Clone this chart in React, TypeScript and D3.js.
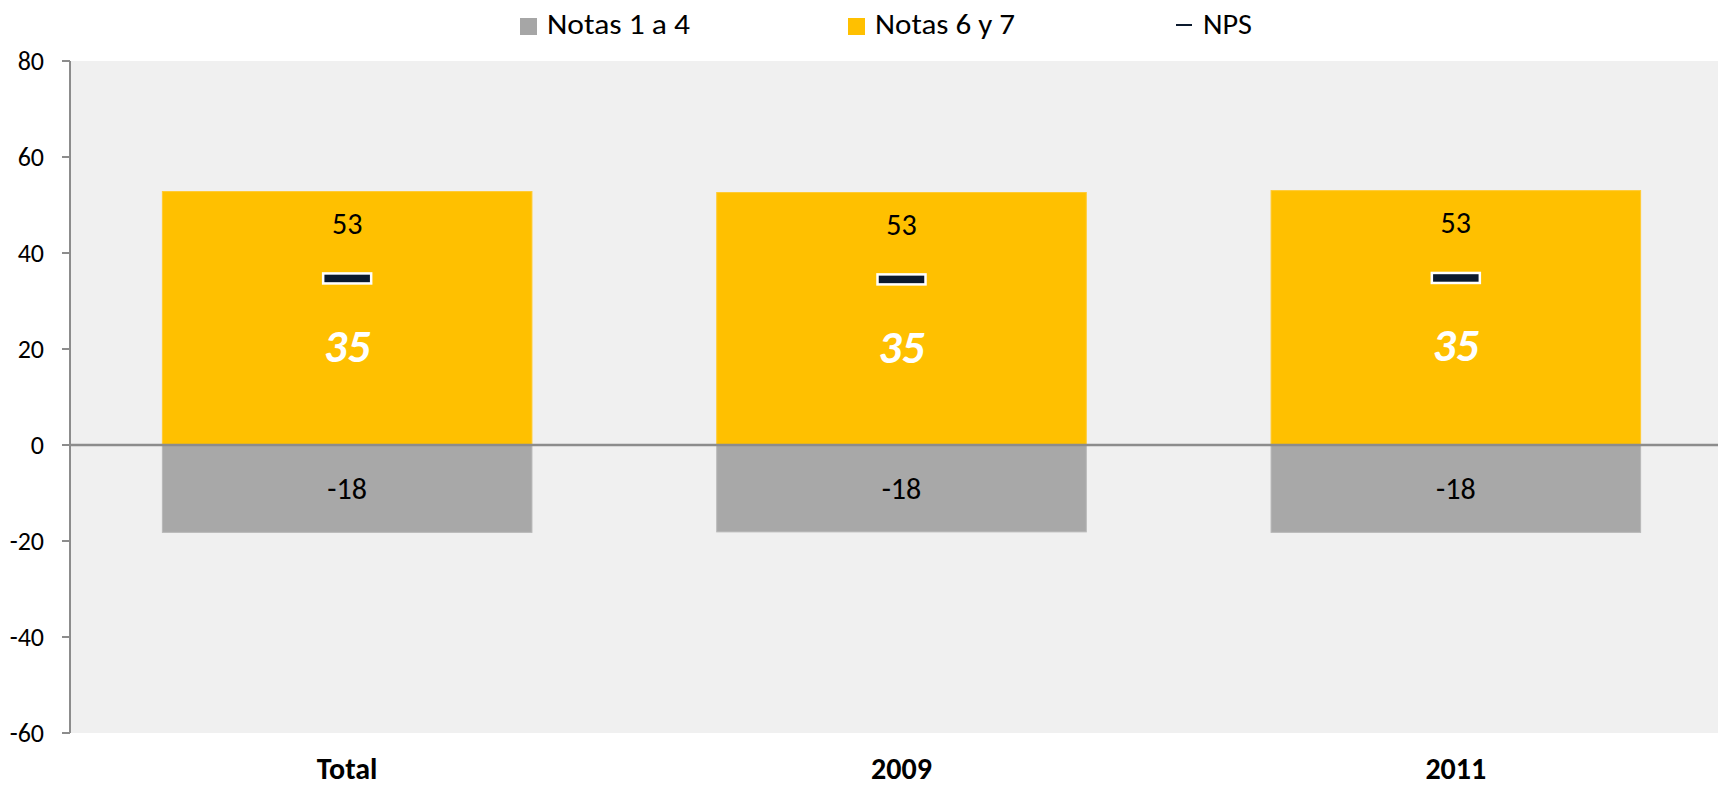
import React from "react";
import * as d3 from "d3";

const width = 1718;
const height = 787;
const margin = { top: 61, right: -15, bottom: 54, left: 70 };

const categories = ["Total", "2009", "2011"];
const notas14 = [-18.2, -18.1, -18.2];
const notas67 = [52.8, 52.6, 53.0];
const nps = [34.7, 34.5, 34.8];
const yTicks = [80, 60, 40, 20, 0, -20, -40, -60];

const font = "Carlito, Calibri, Lato, sans-serif";
// plain hyphen for negatives, like the original
const fmt = d3.formatLocale({ decimal: ".", thousands: ",", grouping: [3], currency: ["", ""], minus: "-" }).format(".0f");

export default function App() {
  const x = d3
    .scaleBand()
    .domain(categories)
    .range([margin.left, width - margin.right])
    .paddingInner(1 / 3)
    .paddingOuter(1 / 6);

  const y = d3
    .scaleLinear()
    .domain([-60, 80])
    .range([height - margin.bottom, margin.top]);

  const bw = x.bandwidth();

  return (
    <svg
      width={width}
      height={height}
      style={{ position: "absolute", left: 0, top: 0, fontFamily: font }}
    >
      <rect x={0} y={0} width={width} height={height} fill="#fff" />
      {/* plot background */}
      <rect
        x={margin.left}
        y={y(80)}
        width={width - margin.left}
        height={y(-60) - y(80)}
        fill="#f0f0f0"
      />

      {/* legend */}
      <g fontSize={29} fill="#000">
        <rect x={520} y={18} width={17} height={17} fill="#a6a6a6" />
        <text x={547} y={34} textLength={143} lengthAdjust="spacingAndGlyphs">
          Notas 1 a 4
        </text>
        <rect x={848} y={18} width={17} height={17} fill="#ffc000" />
        <text x={875} y={34} textLength={140} lengthAdjust="spacingAndGlyphs">
          Notas 6 y 7
        </text>
        <line x1={1176} x2={1192} y1={25} y2={25} stroke="#0c1a2e" strokeWidth={2} />
        <text x={1203} y={34} textLength={49} lengthAdjust="spacingAndGlyphs">
          NPS
        </text>
      </g>

      {/* bars */}
      {categories.map((c, i) => (
        <g key={c}>
          <rect
            x={x(c)}
            y={y(notas67[i])}
            width={bw}
            height={y(0) - y(notas67[i])}
            fill="#ffc000"
            stroke="#ffcb33"
            strokeWidth={1}
          />
          <rect
            x={x(c)}
            y={y(0)}
            width={bw}
            height={y(notas14[i]) - y(0)}
            fill="#a8a8a8"
            stroke="#b8b8b8"
            strokeWidth={1}
          />
        </g>
      ))}

      {/* zero line */}
      <line
        x1={margin.left}
        x2={width}
        y1={y(0)}
        y2={y(0)}
        stroke="#8c8c8c"
        strokeWidth={2.5}
      />

      {/* y axis */}
      <line x1={margin.left} x2={margin.left} y1={y(80)} y2={y(-60)} stroke="#8c8c8c" strokeWidth={2} />
      {yTicks.map(t => (
        <g key={t}>
          <line x1={margin.left - 8} x2={margin.left} y1={y(t)} y2={y(t)} stroke="#8c8c8c" strokeWidth={2} />
          <text
            x={margin.left - 26}
            y={y(t)}
            dy="0.35em"
            textAnchor="end"
            fontSize={26}
            fill="#000"
          >
            {fmt(t)}
          </text>
        </g>
      ))}

      {/* labels and NPS markers */}
      {categories.map((c, i) => {
        const cx = x(c) + bw / 2;
        return (
          <g key={c + "-lab"}>
            <text x={cx} y={y(notas67[i]) + 32} dy="0.35em" textAnchor="middle" fontSize={30} fill="#000">
              {fmt(notas67[i])}
            </text>
            <text x={cx} y={(y(0) + y(notas14[i])) / 2} dy="0.35em" textAnchor="middle" fontSize={30} fill="#000">
              {fmt(notas14[i])}
            </text>
            <rect
              x={cx - 24}
              y={y(nps[i]) - 5}
              width={48}
              height={10}
              fill="#0c1a2e"
              stroke="#fff"
              strokeWidth={2.5}
            />
            <text
              x={cx}
              y={y(nps[i]) + 67}
              dy="0.35em"
              textAnchor="middle"
              fontSize={46}
              fontWeight="bold"
              fontStyle="italic"
              fill="#fff"
            >
              {fmt(nps[i])}
            </text>
            <text x={cx} y={779} textAnchor="middle" fontSize={30} fontWeight="bold" fill="#000">
              {c}
            </text>
          </g>
        );
      })}
    </svg>
  );
}
